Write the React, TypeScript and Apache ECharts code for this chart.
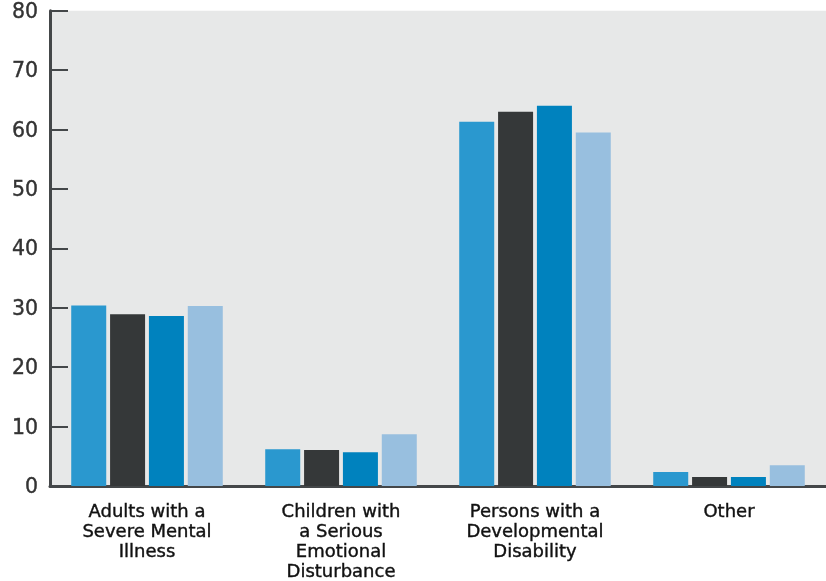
import React, { useEffect, useRef } from "react";
import * as echarts from "echarts";

const categories = [
  "Adults with a\nSevere Mental\nIllness",
  "Children with\na Serious\nEmotional\nDisturbance",
  "Persons with a\nDevelopmental\nDisability",
  "Other",
];
const seriesA = [30.4, 6.2, 61.3, 2.35];
const seriesB = [28.9, 6.05, 63.0, 1.5];
const seriesC = [28.6, 5.7, 64.0, 1.5];
const seriesD = [30.3, 8.7, 59.5, 3.5];
const seriesNames = ["Series 1", "Series 2", "Series 3", "Series 4"];
const colors = ["#2a98cf", "#353839", "#0082be", "#98bfdf"];

export default function App() {
  const ref = useRef<HTMLDivElement>(null);
  useEffect(() => {
    if (!ref.current) return;
    const chart = echarts.init(ref.current, undefined, { renderer: "svg" });
    const data = [seriesA, seriesB, seriesC, seriesD];
    chart.setOption({
      animation: false,
      textStyle: { fontFamily: "DejaVu Sans" },
      grid: {
        left: 50,
        right: 0,
        top: 10,
        bottom: 95,
        show: true,
        backgroundColor: "#e7e8e8",
        borderWidth: 0,
      },
      xAxis: {
        type: "category",
        data: categories,
        axisLine: { lineStyle: { color: "#444749", width: 3 } },
        axisTick: { inside: true, length: 12, lineStyle: { color: "#444749", width: 2 } },
        axisLabel: {
          color: "#111",
          fontSize: 18,
          fontFamily: "DejaVu Sans",
          textBorderColor: "#111",
          textBorderWidth: 0.4,
          lineHeight: 20,
          margin: 14,
          interval: 0,
        },
      },
      yAxis: {
        type: "value",
        min: 0,
        max: 80,
        interval: 10,
        splitLine: { show: false },
        axisLine: { show: true, lineStyle: { color: "#444749", width: 3 } },
        axisTick: { show: true, inside: true, length: 18, lineStyle: { color: "#444749", width: 2 } },
        axisLabel: {
          color: "#333",
          fontSize: 20.5,
          fontFamily: "DejaVu Sans",
          textBorderColor: "#333",
          textBorderWidth: 0.4,
          margin: 12,
        },
      },
      series: data.map((d, i) => ({
        name: seriesNames[i],
        type: "bar",
        data: d,
        barWidth: 35,
        barGap: "11%",
        itemStyle: { color: colors[i] },
      })),
    });
    return () => chart.dispose();
  }, []);
  return <div ref={ref} style={{ position: "fixed", left: 0, top: 0, width: 826, height: 581 }} />;
}
